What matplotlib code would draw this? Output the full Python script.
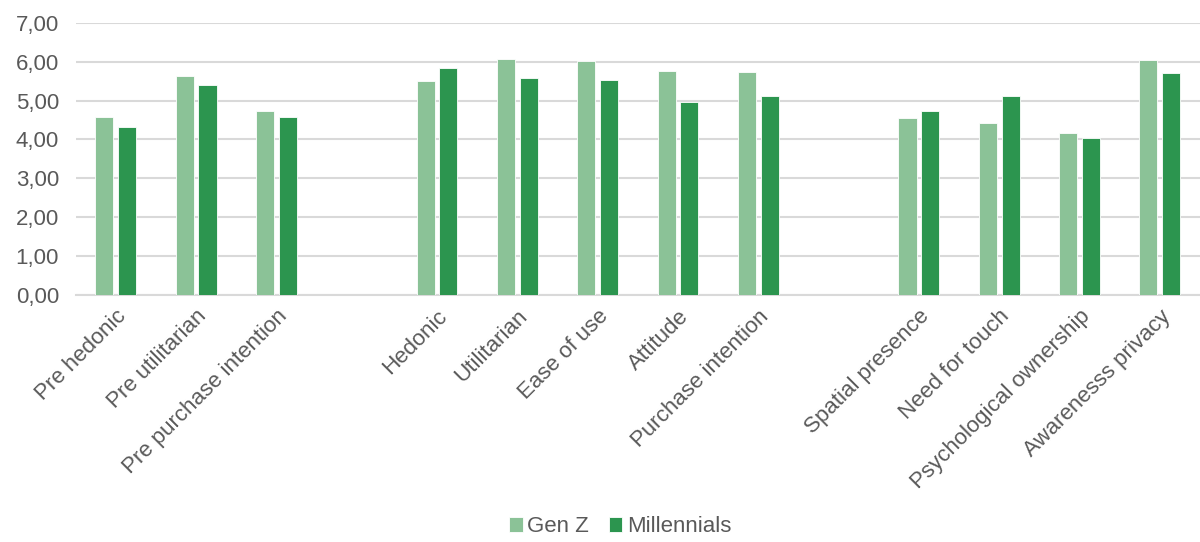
import numpy as np
import matplotlib
matplotlib.use("Agg")
import matplotlib.pyplot as plt
from matplotlib.ticker import FuncFormatter

# categories, '' marks the empty slot between groups
categories = ["Pre hedonic", "Pre utilitarian", "Pre purchase intention", "",
              "Hedonic", "Utilitarian", "Ease of use", "Attitude", "Purchase intention", "",
              "Spatial presence", "Need for touch", "Psychological ownership", "Awarenesss privacy"]
gen_z = [4.57, 5.64, 4.74, np.nan,
         5.49, 6.08, 6.01, 5.76, 5.74, np.nan,
         4.55, 4.42, 4.16, 6.05]
millennials = [4.32, 5.40, 4.57, np.nan,
               5.83, 5.58, 5.52, 4.96, 5.11, np.nan,
               4.73, 5.11, 4.04, 5.70]

c_genz = "#8BC297"
c_mill = "#2C954F"
grey = "#595959"

plt.rcParams['font.family'] = ['Liberation Sans', 'DejaVu Sans']

fig = plt.figure(figsize=(12, 5.42), dpi=100)
ax = fig.add_axes([0.063, 0.456, 0.937, 0.502])

x = np.arange(len(categories))
w = 0.225
ax.bar(x - 0.142, gen_z, w, color=c_genz, edgecolor="white", linewidth=0.6, label="Gen Z", zorder=3)
ax.bar(x + 0.142, millennials, w, color=c_mill, edgecolor="white", linewidth=0.6, label="Millennials", zorder=3)

ax.set_xlim(-0.5, len(categories) - 0.5)
ax.set_ylim(0, 7)
ax.set_yticks(np.arange(0, 8, 1))
ax.yaxis.set_major_formatter(FuncFormatter(lambda v, p: f"{v:.2f}".replace(".", ",")))
ax.grid(axis="y", color="#D9D9D9", linewidth=1.5, zorder=0)
for s in ["top", "right", "left"]:
    ax.spines[s].set_visible(False)
ax.spines["bottom"].set_color("#D9D9D9")
ax.spines["bottom"].set_linewidth(1.5)

ax.set_xticks(x)
ax.set_xticklabels(categories, rotation=45, ha="right", rotation_mode="anchor")
ax.tick_params(axis="both", length=0, colors=grey, labelsize=16)
ax.tick_params(axis="x", pad=8)
ax.tick_params(axis="y", pad=12)

fig.legend(loc="center", bbox_to_anchor=(0.517, 0.028), ncol=2, frameon=False,
           fontsize=16, labelcolor=grey, handlelength=0.6, handleheight=0.6,
           handletextpad=0.2, columnspacing=0.9)

fig.savefig("out.png", dpi=100)
